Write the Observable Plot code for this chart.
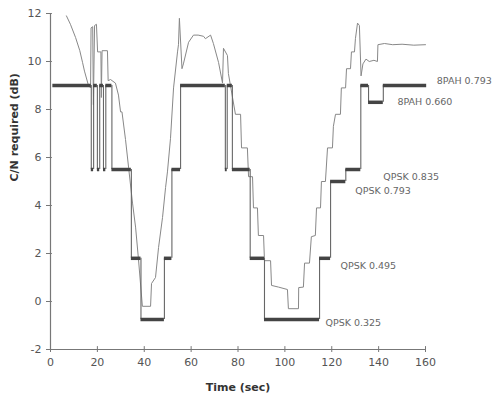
<!DOCTYPE html>
<html>
<head>
<meta charset="utf-8">
<script src="https://cdn.jsdelivr.net/npm/d3@7"></script>
<script src="https://cdn.jsdelivr.net/npm/@observablehq/plot@0.6"></script>
<style>
  html, body { margin: 0; padding: 0; background: #fff; }
  #chart { width: 496px; height: 401px; }
</style>
</head>
<body>
<div id="chart"></div>
<script>
// Measured C/N (thin line)
const cnTime = [6.8, 8.5, 10.7, 12.5, 13.7, 14.5, 16.2, 17.1, 17.3, 18.0, 18.3, 18.8, 19.6, 20.1, 21.5, 21.7, 22.0, 24.3, 24.6, 25.6, 27.7, 29.0, 29.9, 30.5, 32.0, 33.3, 35.0, 36.3, 37.5, 39.2, 42.7, 43.1, 44.8, 46.1, 47.8, 49.1, 49.9, 51.2, 52.5, 54.2, 54.6, 55.0, 56.1, 56.7, 58.9, 61.0, 63.0, 65.3, 66.1, 68.3, 69.5, 71.7, 73.4, 73.8, 75.5, 75.9, 78.9, 81.1, 81.5, 84.0, 84.5, 86.2, 86.6, 88.3, 88.7, 90.9, 91.3, 93.9, 94.3, 97.3, 101.1, 101.5, 105.8, 105.9, 107.9, 108.4, 110.5, 111.3, 113.0, 113.5, 115.2, 115.6, 117.3, 118.2, 120.3, 120.7, 121.6, 123.7, 124.1, 125.9, 126.3, 128.0, 128.4, 129.7, 130.1, 131.0, 131.8, 132.5, 133.3, 134.6, 136.0, 138.0, 139.5, 139.7, 142.5, 146, 150, 155, 160];
const cnValue = [11.9, 11.55, 11.0, 10.45, 9.95, 9.6, 9.0, 8.9, 11.4, 11.45, 8.2, 11.5, 11.55, 10.4, 10.4, 8.5, 10.45, 10.45, 9.2, 9.25, 9.1, 8.6, 7.9, 7.9, 6.75, 5.6, 4.1, 3.1, 1.8, -0.2, -0.2, 0.75, 1.0, 2.25, 3.5, 4.75, 5.4, 6.8, 8.9, 10.4, 10.7, 11.8, 9.7, 9.9, 10.8, 11.1, 11.1, 11.05, 10.95, 11.1, 10.75, 9.96, 9.1, 10.55, 10.25, 9.5, 7.8, 7.8, 6.4, 6.4, 5.2, 5.2, 3.9, 3.9, 2.75, 2.75, 1.7, 1.7, 0.67, 0.6, 0.5, -0.3, -0.3, 0.58, 0.6, 1.6, 1.6, 2.7, 2.75, 3.9, 3.9, 5.0, 5.0, 6.4, 6.4, 7.3, 7.8, 7.8, 8.9, 8.9, 9.7, 9.7, 10.4, 10.4, 10.95, 11.6, 11.5, 9.4, 9.9, 10.1, 10.0, 10.05, 10.0, 10.7, 10.75, 10.7, 10.72, 10.68, 10.7];

// Required C/N of the selected MODCOD (thick steps); last entry is the end point
const stepTime = [1, 17.4, 18.4, 20.0, 21.0, 22.6, 23.6, 26.2, 34.5, 38.6, 48.6, 51.8, 55.5, 74.6, 75.4, 77.6, 85.2, 91.3, 114.8, 119.5, 126.0, 132.4, 135.7, 142.0, 160.5];
const stepLevel = [9, 5.5, 9, 5.5, 9, 5.5, 9, 5.5, 1.8, -0.75, 1.8, 5.5, 9, 5.5, 9, 5.5, 1.8, -0.75, 1.8, 5.0, 5.5, 9, 8.3, 9, 9];

// MODCOD annotations
const labelText = ["8PAH 0.793", "8PAH 0.660", "QPSK 0.835", "QPSK 0.793", "QPSK 0.495", "QPSK 0.325"];
const labelTime = [164.8, 148.0, 142.0, 130.0, 123.7, 117.3];
const labelLevel = [9.2, 8.3, 5.2, 4.6, 1.5, -0.9];

const xTicks = [0, 20, 40, 60, 80, 100, 120, 140, 160];
const yTicks = [-2, 0, 2, 4, 6, 8, 10, 12];

const cn = cnTime.map((t, i) => ({t, v: cnValue[i]}));
const horiz = stepTime.slice(0, -1).map((t, i) => ({x1: t, x2: stepTime[i + 1], y: stepLevel[i]}));
const vert = stepTime.slice(1, -1).map((t, i) => ({x: t, y1: stepLevel[i], y2: stepLevel[i + 1]}));
const labels = labelText.map((s, i) => ({s, t: labelTime[i], v: labelLevel[i]}));

const chart = Plot.plot({
  width: 496,
  height: 401,
  marginLeft: 50,
  marginRight: 71,
  marginTop: 13,
  marginBottom: 52,
  style: {fontFamily: "DejaVu Sans", fontSize: "11px", color: "#555", background: "#fff"},
  x: {domain: [0, 160], ticks: xTicks, label: null},
  y: {domain: [-2, 12], ticks: yTicks, label: null},
  marks: [
    Plot.axisX({ticks: xTicks, tickSize: 3, tickPadding: 6, stroke: "#777", fill: "#555", label: null, tickFormat: d => String(d)}),
    Plot.axisY({ticks: yTicks, tickSize: 4, tickPadding: 5, stroke: "#777", fill: "#555", label: null, tickFormat: d => String(d)}),
    Plot.ruleX(xTicks, {x: d => d, y1: -2, y2: -1.88, stroke: "#777"}),
    Plot.ruleY(yTicks, {y: d => d, x1: 0, x2: 0.8, stroke: "#777"}),
    Plot.ruleY([-2], {x1: 0, x2: 160, stroke: "#777", strokeWidth: 1.2}),
    Plot.ruleX([0], {y1: -2, y2: 12, stroke: "#777", strokeWidth: 1.2}),
    Plot.line(cn, {x: "t", y: "v", stroke: "#888", strokeWidth: 1}),
    Plot.ruleX(vert, {x: "x", y1: "y1", y2: "y2", stroke: "#666", strokeWidth: 1.1}),
    Plot.ruleY(horiz, {y: "y", x1: "x1", x2: "x2", stroke: "#444", strokeWidth: 3.5}),
    Plot.text(labels, {x: "t", y: "v", text: "s", textAnchor: "start", fill: "#666", fontSize: 9.5}),
    Plot.text(["Time (sec)"], {frameAnchor: "bottom", dy: 41, fontWeight: "bold", fontSize: 11, fill: "#333"}),
    Plot.text(["C/N required (dB)"], {frameAnchor: "left", dx: -36, rotate: -90, fontWeight: "bold", fontSize: 11, fill: "#333"})
  ]
});
document.getElementById("chart").appendChild(chart);
</script>
</body>
</html>
